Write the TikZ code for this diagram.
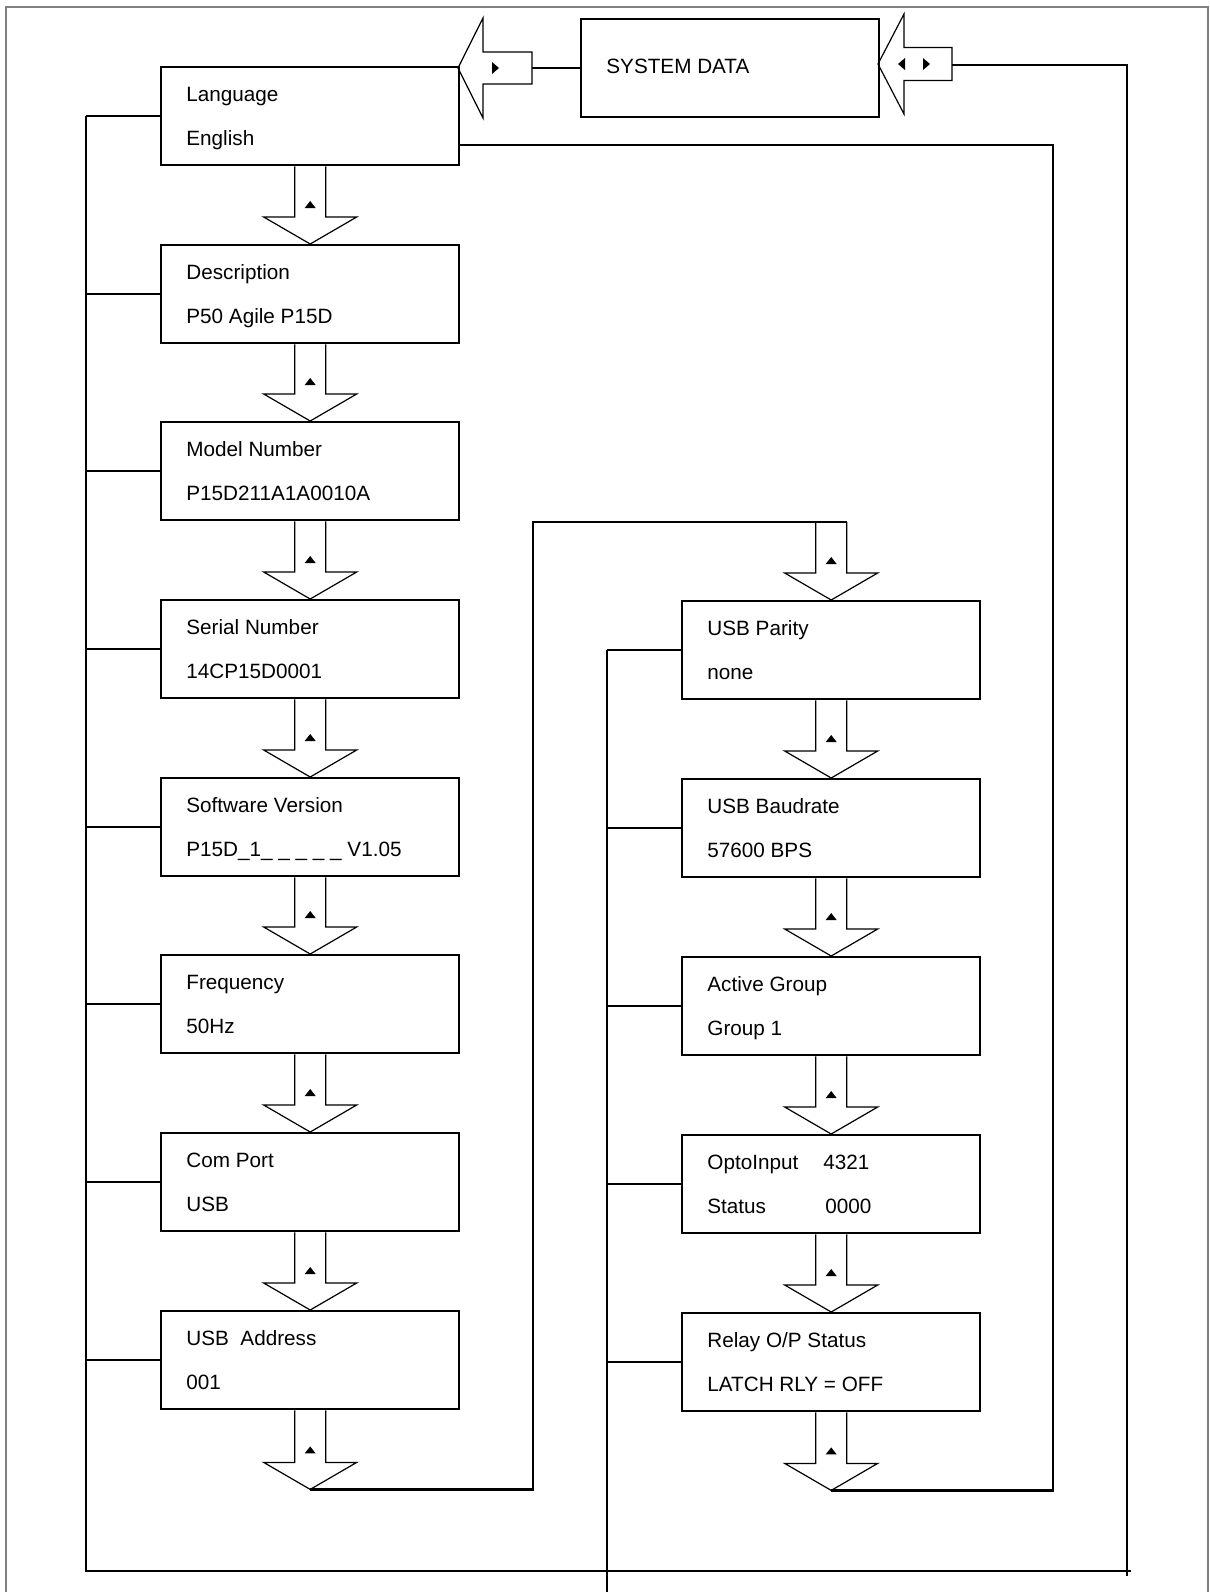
\documentclass[tikz,border=0pt]{standalone}
\usepackage{fontspec}
\setmainfont{Liberation Sans}
\usetikzlibrary{calc}
\newcommand{\dnarrow}[2]{%
  \draw[arr] let \p1=(#1), \p2=(#2) in
    (\x2-7.75pt,\y1) -- (\x2-7.75pt,\y2+13.5pt) -- (\x2-23.25pt,\y2+13.5pt) -- (\x2,\y2)
    -- (\x2+23.25pt,\y2+13.5pt) -- (\x2+7.75pt,\y2+13.5pt) -- (\x2+7.75pt,\y1);
  \fill let \p2=(#2) in (\x2-2.75pt,\y2+18pt) -- (\x2+2.75pt,\y2+18pt) -- (\x2,\y2+21.5pt) -- cycle;
}
\begin{document}
\begin{tikzpicture}[x=0.5pt,y=-0.5pt,
  box/.style={draw, line width=1.2pt, minimum width=149pt, minimum height=49pt, inner sep=0pt, anchor=north west},
  txt/.style={anchor=base west, inner sep=0pt, font=\fontsize{10.35}{12}\selectfont},
  conn/.style={line width=1.2pt},
  arr/.style={line width=0.6pt, line join=miter},
  frame/.style={line width=0.9pt, draw=black!50}]
\useasboundingbox (0,0) rectangle (1210,1592);
\draw[frame] (6,1592) -- (6,7) -- (1208,7) -- (1208,1592);

% top box
\node[box, minimum height=49pt] (sd) at (580,18) {};
\node[txt] (sdt) at ($(sd.north west)+(26,55)$) {SYSTEM DATA};

% left column
\foreach \n/\y in {1/66,2/244,3/421,4/599,5/777,6/954,7/1132,8/1310}
  \node[box] (b\n) at (160,\y) {};
% right column
\foreach \n/\y in {1/600,2/778,3/956,4/1134,5/1312}
  \node[box] (r\n) at (681,\y) {};

% texts left
\node[txt] (b1a) at ($(b1.north west)+(26,35)$) {Language};
\node[txt] (b1b) at ($(b1.north west)+(26,79)$) {English};
\node[txt] (b2a) at ($(b2.north west)+(26,35)$) {Description};
\node[txt] (b2b) at ($(b2.north west)+(26,79)$) {P50 Agile P15D};
\node[txt] (b3a) at ($(b3.north west)+(26,35)$) {Model Number};
\node[txt] (b3b) at ($(b3.north west)+(26,79)$) {P15D211A1A0010A};
\node[txt] (b4a) at ($(b4.north west)+(26,35)$) {Serial Number};
\node[txt] (b4b) at ($(b4.north west)+(26,79)$) {14CP15D0001};
\node[txt] (b5a) at ($(b5.north west)+(26,35)$) {Software Version};
\node[txt] (b5b) at ($(b5.north west)+(26,79)$) {P15D\_1\_ \_ \_ \_ \_ V1.05};
\node[txt] (b6a) at ($(b6.north west)+(26,35)$) {Frequency};
\node[txt] (b6b) at ($(b6.north west)+(26,79)$) {50Hz};
\node[txt] (b7a) at ($(b7.north west)+(26,35)$) {Com Port};
\node[txt] (b7b) at ($(b7.north west)+(26,79)$) {USB};
\node[txt] (b8a) at ($(b8.north west)+(26,35)$) {USB\ \ Address};
\node[txt] (b8b) at ($(b8.north west)+(26,79)$) {001};
% texts right
\node[txt] (r1a) at ($(r1.north west)+(26,35)$) {USB Parity};
\node[txt] (r1b) at ($(r1.north west)+(26,79)$) {none};
\node[txt] (r2a) at ($(r2.north west)+(26,35)$) {USB Baudrate};
\node[txt] (r2b) at ($(r2.north west)+(26,79)$) {57600 BPS};
\node[txt] (r3a) at ($(r3.north west)+(26,35)$) {Active Group};
\node[txt] (r3b) at ($(r3.north west)+(26,79)$) {Group 1};
\node[txt] (r4a) at ($(r4.north west)+(26,35)$) {OptoInput};
\node[txt] (r4c) at ($(r4.north west)+(142,35)$) {4321};
\node[txt] (r4b) at ($(r4.north west)+(26,79)$) {Status};
\node[txt] (r4d) at ($(r4.north west)+(144,79)$) {0000};
\node[txt] (r5a) at ($(r5.north west)+(26,35)$) {Relay O/P Status};
\node[txt] (r5b) at ($(r5.north west)+(26,79)$) {LATCH RLY = OFF};

% down arrows
\dnarrow{b1.south}{b2.north}
\dnarrow{b2.south}{b3.north}
\dnarrow{b3.south}{b4.north}
\dnarrow{b4.south}{b5.north}
\dnarrow{b5.south}{b6.north}
\dnarrow{b6.south}{b7.north}
\dnarrow{b7.south}{b8.north}
\coordinate (e1) at ($(b8.south)+(0,79)$);
\dnarrow{b8.south}{e1}
\coordinate (t1) at ($(r1.north)+(0,-78)$);
\dnarrow{t1}{r1.north}
\draw[arr] ($(t1)+(-15.5,0)$) -- ($(t1)+(15.5,0)$);
\dnarrow{r1.south}{r2.north}
\dnarrow{r2.south}{r3.north}
\dnarrow{r3.south}{r4.north}
\dnarrow{r4.south}{r5.north}
\coordinate (e2) at ($(r5.south)+(0,78)$);
\dnarrow{r5.south}{e2}

% side arrows at top
\coordinate (lt) at (458,68);
\draw[arr] (lt) -- ++(25,-50) -- ++(0,34) -- ++(49,0) coordinate (la) -- ++(0,32) -- ++(-49,0) -- ++(0,34) -- cycle;
\fill (492,62) -- (499,68) -- (492,74) -- cycle;
\coordinate (ls) at (532,68);
\draw[conn] (ls) -- (sd.west |- ls);

\coordinate (rt) at (878,64);
\draw[arr] (rt) -- ++(26,-50) -- ++(0,33.5) -- ++(48,0) -- ++(0,33) coordinate (rs0) -- ++(-48,0) -- ++(0,33.5) -- cycle;
\fill (898,64) -- (905,58) -- (905,70) -- cycle;
\fill (930,64) -- (923,58) -- (923,70) -- cycle;
\coordinate (rs) at (952,65);
\coordinate (k3) at (1127,1576);
\draw[conn] (rs) -| (k3);

% loops
\coordinate (k1) at (533,522);
\draw[conn] (e1) -| (k1) -- (t1);
\coordinate (k2) at (1053,145);
\draw[conn] (e2) -| (k2) -- (b1.east |- k2);

% left bus
\coordinate (lb) at (86,1571);
\coordinate (rbend) at (1131,1571);
\draw[conn] (b1.west -| lb) -- (lb) -- (rbend);
\foreach \n in {1,...,8} \draw[conn] (b\n.west) -- (b\n.west -| lb);
% middle bus
\coordinate (mb) at (607,1592);
\draw[conn] (r1.west -| mb) -- (mb);
\foreach \n in {1,...,5} \draw[conn] (r\n.west) -- (r\n.west -| mb);
\end{tikzpicture}
\end{document}
